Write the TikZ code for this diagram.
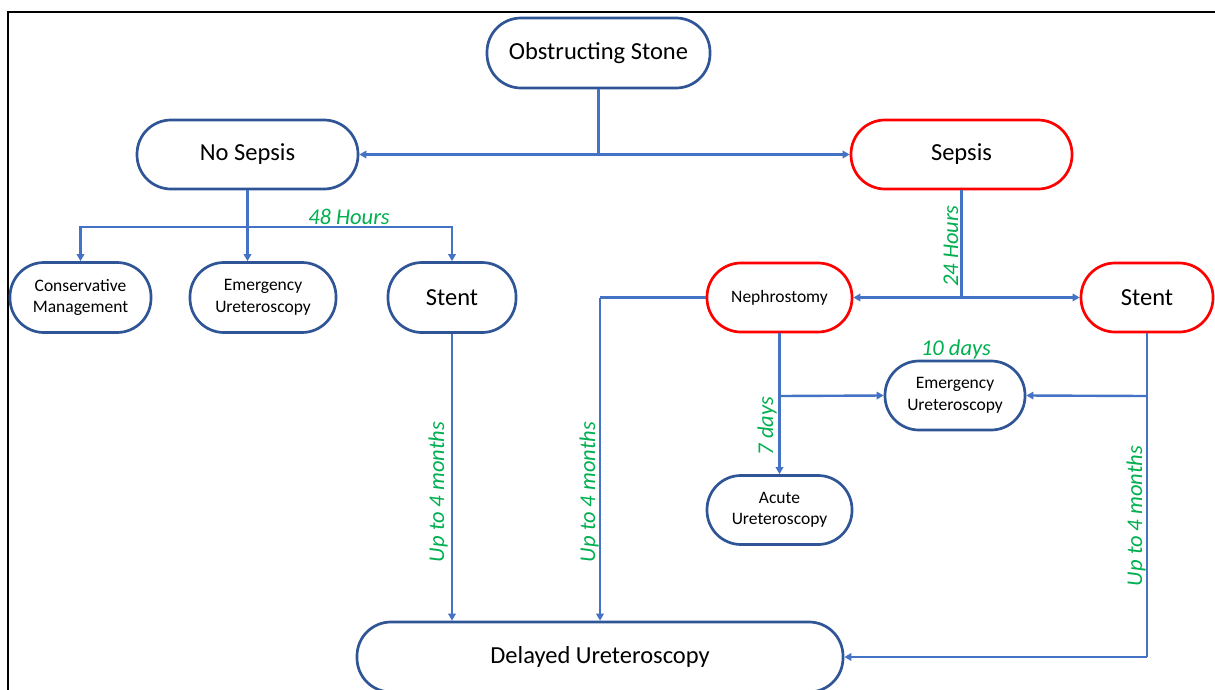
\documentclass[tikz,border=0pt]{standalone}
\usepackage{fontspec}
\setmainfont{Carlito}
\usetikzlibrary{arrows.meta,calc}
\definecolor{nblue}{HTML}{2F5597}
\definecolor{nred}{HTML}{FF0000}
\definecolor{lblue}{HTML}{4472C4}
\definecolor{lgreen}{HTML}{00B050}
\tikzset{
  box/.style={draw=nblue, line width=2.7pt, rounded corners=34pt, fill=white, align=center, inner sep=0pt, text=black},
  big/.style={font=\fontsize{24.5}{27}\selectfont},
  small/.style={font=\fontsize{17.5}{21.5}\selectfont},
  redbox/.style={draw=nred},
  arr/.style={draw=lblue, line width=2.4pt, -{Triangle[length=7pt,width=7.5pt]}},
  ln/.style={draw=lblue, line width=2.4pt},
  lbl/.style={text=lgreen, font=\fontsize{22.5}{24}\selectfont\itshape, inner sep=0pt},
  frame/.style={draw=black, line width=2.3pt},
}
\begin{document}
\begin{tikzpicture}[x=1pt,y=-1pt]
\useasboundingbox (0,0) rectangle (1215,689);
\clip (0,0) rectangle (1215,689);
\fill[white] (0,0) rectangle (1215,689);
\draw[frame] (8,700) -- (8,12) -- (1220,12);

% nodes
\node[box,big,minimum width=223pt,minimum height=70pt] (obs) at (598.5,53) {Obstructing Stone};
\node[box,big,minimum width=221pt,minimum height=69pt] (nos) at (247.5,154.5) {No Sepsis};
\node[box,big,redbox,minimum width=221pt,minimum height=69pt] (sep) at (961.5,154.5) {Sepsis};
\node[box,small,minimum width=141pt,minimum height=70pt] (cons) at (80.5,297.5) {Conservative\\Management};
\node[box,small,minimum width=146pt,minimum height=70pt] (emL) at (263,297.5) {Emergency\\Ureteroscopy};
\node[box,big,minimum width=128pt,minimum height=70pt] (stL) at (452,297.5) {Stent};
\node[box,small,redbox,minimum width=145pt,minimum height=69pt] (neph) at (779.5,297.5) {Nephrostomy};
\node[box,big,redbox,minimum width=132pt,minimum height=69pt] (stR) at (1147,297.5) {Stent};
\node[box,small,minimum width=140pt,minimum height=69pt] (emR) at (955,395.5) {Emergency\\Ureteroscopy};
\node[box,small,minimum width=145pt,minimum height=69pt] (acu) at (779.5,510) {Acute\\Ureteroscopy};
\node[box,big,minimum width=486pt,minimum height=70pt] (del) at (600,657) {Delayed Ureteroscopy};

% coordinates
\coordinate (j2) at (247.5,227);
\coordinate (j3) at (779.5,396);
\coordinate (k1) at (600,297.5);
\coordinate (j4) at (1147,396);
\coordinate (j5) at (1147,657);

% connectors
\draw[arr] (obs.south) |- (nos.east);
\draw[arr] (obs.south) |- (sep.west);
\draw[ln] (nos.south) -- (j2);
\draw[arr] (j2) -| (cons.north);
\draw[arr] (j2) -| (stL.north);
\draw[arr] (nos.south) -- (nos.south |- emL.north);
\draw[arr] (sep.south) |- (neph.east);
\draw[arr] (sep.south) |- (stR.west);
\draw[arr] (neph.south) -- (acu.north);
\draw[arr] (j3) -- (emR.west);
\draw[ln] (stR.south) -- (j5);
\draw[arr] (j5) -- (del.east);
\draw[arr] (j4) -- (emR.east);
\draw[arr] (stL.south) -- (stL.south |- del.north);
\draw[ln] (neph.west) -- (k1);
\draw[arr] (k1) -- (k1 |- del.north);

% labels
\node[lbl] (l48) at (349,217) {48 Hours};
\node[lbl,rotate=90] (l24) at (951,246) {24 Hours};
\node[lbl] (l10) at (956,349) {10 days};
\node[lbl,rotate=90] (l7) at (767,426) {7 days};
\node[lbl,rotate=90] (lu1) at (438,492) {Up to 4 months};
\node[lbl,rotate=90] (lu2) at (589,492) {Up to 4 months};
\node[lbl,rotate=90] (lu3) at (1136,516) {Up to 4 months};
\end{tikzpicture}
\end{document}
